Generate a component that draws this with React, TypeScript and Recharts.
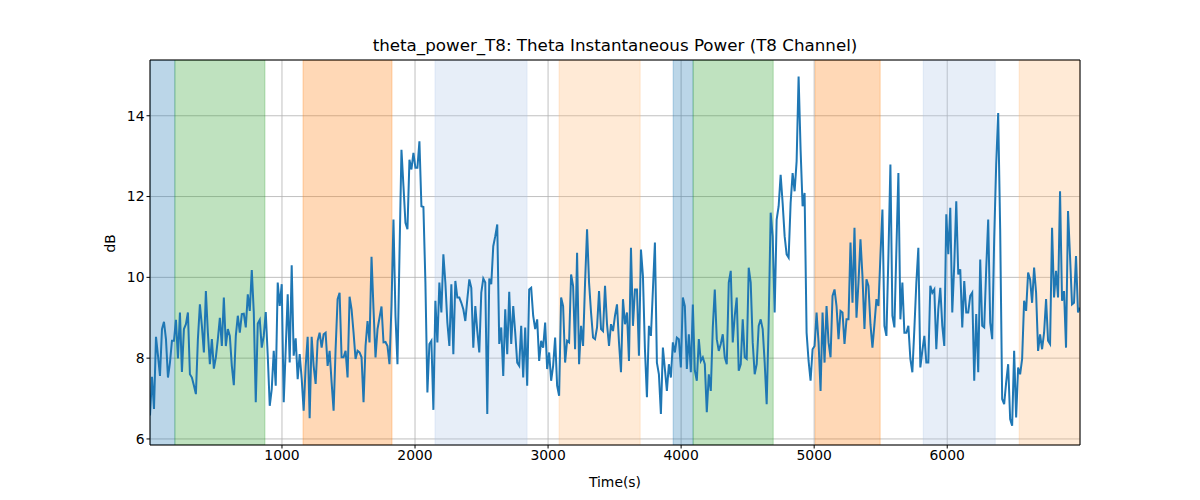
import {
  LineChart,
  Line,
  XAxis,
  YAxis,
  CartesianGrid,
  ReferenceArea,
} from "recharts";

const START_TIME = 8;
const STEP = 15;

const POWER_DB = [
  // 0 - ~1330 s
  6.58, 7.54, 6.74, 8.53, 8.06, 7.56, 8.72, 8.9, 8.47, 7.52,
  7.89, 8.43, 8.43, 8.95, 7.99, 9.13, 7.66, 8.72, 8.84, 9.13,
  7.6, 7.52, 7.32, 7.11, 8.47, 9.33, 8.8, 8.14, 9.66, 8.63,
  7.85, 8.47, 7.74, 8.02, 8.47, 9.0, 8.3, 9.5, 8.3, 8.72,
  8.55, 7.81, 7.33, 8.55, 9.05, 8.63, 9.09, 9.1, 8.76, 9.58,
  9.17, 10.18, 9.14, 6.91, 8.86, 8.95, 8.26, 8.55, 9.14, 8.06,
  6.82, 7.23, 8.18, 7.32, 9.87, 9.29, 9.83, 6.91, 8.22, 9.58,
  7.89, 10.3, 8.06, 8.49, 7.48, 8.1, 7.5, 6.7, 7.8, 8.53,
  6.51, 8.53, 7.81, 7.36, 8.43, 8.63, 8.26, 8.59, 8.63,
  // ~1340 - ~2750 s
  7.81, 8.18, 7.4, 6.7, 8.22, 9.46, 9.62, 8.02, 8.02, 8.18,
  7.52, 9.52, 9.21, 8.63, 7.98, 8.18, 8.14, 8.02, 6.91, 8.3,
  8.92, 8.39, 10.51, 9.21, 8.02, 8.72, 9.0, 9.28, 8.39, 8.4,
  8.3, 7.85, 9.29, 11.43, 9.05, 7.85, 10.53, 13.16, 12.26, 11.35,
  11.19, 12.91, 12.67, 13.08, 12.71, 12.71, 13.37, 11.76, 11.74, 9.87,
  7.15, 8.35, 8.43, 6.72, 9.42, 8.39, 9.87, 9.13, 10.57, 9.87,
  8.88, 8.3, 9.83, 8.1, 9.91, 9.5, 9.5, 9.37, 9.21, 8.92,
  9.46, 9.95, 9.74, 8.26, 9.29, 8.67, 8.14, 9.62, 9.97, 9.87,
  6.62, 9.97, 9.83, 10.77, 11.02, 11.31, 8.35, 8.76, 7.56, 9.21,
  8.1, 9.64, 8.35, 9.29, 8.63,
  // ~2770 - ~4250 s
  7.89, 7.81, 8.8, 7.52, 8.76, 7.32, 9.7, 9.74, 9.05, 8.72,
  8.96, 7.93, 8.43, 8.26, 8.88, 7.73, 8.14, 7.44, 7.81, 8.51,
  7.32, 7.07, 9.5, 9.29, 7.89, 8.43, 8.39, 10.07, 9.79, 8.22,
  10.61, 7.85, 8.8, 8.3, 9.87, 11.19, 9.87, 9.13, 8.51, 8.47,
  8.76, 9.66, 8.72, 8.67, 9.79, 8.84, 8.3, 8.84, 8.67, 9.05,
  9.33, 8.39, 7.65, 9.46, 8.84, 9.13, 7.93, 10.73, 8.8, 9.7,
  9.7, 8.06, 10.69, 10.03, 8.22, 7.03, 8.8, 8.55, 9.7, 10.86,
  7.89, 7.6, 6.62, 8.26, 7.73, 7.19, 7.85, 7.52, 8.39, 8.14,
  8.51, 8.47, 7.77, 9.5, 9.29, 7.73, 8.59, 7.65, 9.33, 7.69,
  7.44, 8.47, 7.93, 8.02, 7.85, 6.66, 7.6, 7.19, 8.76, 9.7,
  // ~4270 - ~5720 s
  8.47, 8.18, 8.35, 8.59, 8.02, 7.85, 9.87, 10.16, 8.39, 9.05,
  9.5, 7.69, 7.85, 8.96, 8.02, 7.98, 10.24, 9.87, 8.39, 7.6,
  7.85, 8.8, 8.96, 8.72, 7.89, 6.86, 8.88, 11.6, 11.02, 9.13,
  11.43, 11.76, 12.54, 11.84, 11.02, 10.57, 10.49, 11.84, 12.58, 12.13,
  12.87, 14.97, 13.16, 11.76, 12.09, 8.63, 7.93, 7.44, 8.22, 8.3,
  9.13, 8.39, 7.19, 9.13, 7.89, 9.29, 8.39, 8.02, 9.54, 9.7,
  9.29, 8.47, 9.17, 9.13, 8.35, 8.96, 8.96, 10.86, 9.37, 11.23,
  9.0, 9.87, 10.94, 10.03, 8.72, 9.95, 9.79, 8.84, 8.26, 8.84,
  9.46, 9.29, 10.53, 11.68, 8.8, 8.55, 10.53, 12.79, 9.05, 8.76,
  10.69, 12.58, 8.96, 9.87, 8.63, 8.63, 8.8, 7.98,
  // ~5740 - 7000 s
  7.65, 8.72, 9.87, 10.73, 7.77, 8.18, 8.55, 7.89, 7.89, 9.79,
  9.62, 9.7, 8.22, 9.21, 9.74, 8.8, 8.3, 11.56, 10.57, 11.72,
  9.13, 10.32, 11.88, 10.07, 10.2, 8.76, 9.91, 9.13, 9.13, 9.54,
  9.62, 7.44, 9.09, 7.65, 10.44, 8.8, 8.76, 10.2, 11.43, 8.88,
  8.47, 10.94, 12.79, 14.07, 11.19, 6.99, 6.86, 7.4, 7.85, 6.49,
  6.33, 8.18, 6.53, 7.77, 7.6, 7.98, 9.42, 9.17, 10.12, 9.95,
  9.37, 10.24, 9.62, 8.18, 8.59, 8.22, 8.63, 9.46, 8.43, 8.35,
  11.23, 9.5, 10.16, 9.5, 12.13, 9.42, 9.66, 8.26, 11.64, 10.53,
  9.33, 9.37, 10.53, 9.13, 9.25,
];

// shaded segments: start, end (s) and colour
const SPAN_START = [8, 195, 1158, 2150, 3083, 3940, 4090, 5008, 5820, 6541];
const SPAN_END = [195, 872, 1827, 2842, 3692, 4090, 4692, 5496, 6361, 6998];
const SPAN_COLOR = [
  "#1f77b4",
  "#2ca02c",
  "#ff7f0e",
  "#aec7e8",
  "#ffbb78",
  "#1f77b4",
  "#2ca02c",
  "#ff7f0e",
  "#aec7e8",
  "#ffbb78",
];

const X_TICKS = [1000, 2000, 3000, 4000, 5000, 6000];
const Y_TICKS = [6, 8, 10, 12, 14];

const X_DOMAIN = [8, 6998];
const Y_DOMAIN = [5.85, 15.38];

const data = POWER_DB.map((v, i) => ({ t: START_TIME + i * STEP, db: v }));

const FONT = "'DejaVu Sans', sans-serif";

export default function App() {
  return (
    <div
      style={{
        position: "absolute",
        left: 0,
        top: 0,
        width: 1200,
        height: 500,
        background: "#fff",
        fontFamily: FONT,
      }}
    >
      <div
        style={{
          position: "absolute",
          left: 150,
          width: 930,
          top: 35,
          textAlign: "center",
          fontSize: 16.7,
          color: "#000",
        }}
      >
        theta_power_T8: Theta Instantaneous Power (T8 Channel)
      </div>
      <LineChart
        width={1200}
        height={500}
        data={data}
        margin={{ top: 59, right: 119, bottom: 25, left: 100 }}
      >
        <CartesianGrid stroke="#b0b0b0" strokeWidth={0.8} />
        {SPAN_START.map((s, i) => (
          <ReferenceArea
            key={i}
            x1={s}
            x2={SPAN_END[i]}
            fill={SPAN_COLOR[i]}
            fillOpacity={0.3}
            stroke={SPAN_COLOR[i]}
            strokeOpacity={0.3}
            strokeWidth={1}
            ifOverflow="hidden"
          />
        ))}
        <XAxis
          dataKey="t"
          type="number"
          domain={X_DOMAIN}
          ticks={X_TICKS}
          allowDataOverflow
          height={30}
          tickSize={3.5}
          tickLine={{ stroke: "#000" }}
          axisLine={{ stroke: "#000" }}
          tick={{ fill: "#000", fontSize: 13.9, fontFamily: FONT }}
          label={{
            value: "Time(s)",
            position: "insideBottom",
            offset: -12,
            fill: "#000",
            fontSize: 13.9,
            fontFamily: FONT,
          }}
        />
        <XAxis
          xAxisId="top"
          dataKey="t"
          orientation="top"
          type="number"
          domain={X_DOMAIN}
          allowDataOverflow
          height={1}
          tick={false}
          tickLine={false}
          axisLine={{ stroke: "#000" }}
        />
        <YAxis
          type="number"
          domain={Y_DOMAIN}
          ticks={Y_TICKS}
          allowDataOverflow
          width={50}
          tickSize={3.5}
          tickLine={{ stroke: "#000" }}
          axisLine={{ stroke: "#000" }}
          tick={{ fill: "#000", fontSize: 13.9, fontFamily: FONT }}
          label={{
            value: "dB",
            angle: -90,
            position: "insideLeft",
            offset: 10,
            fill: "#000",
            fontSize: 13.9,
            fontFamily: FONT,
          }}
        />
        <YAxis
          yAxisId="right"
          dataKey="db"
          orientation="right"
          type="number"
          domain={Y_DOMAIN}
          allowDataOverflow
          width={1}
          tick={false}
          tickLine={false}
          axisLine={{ stroke: "#000" }}
        />
        <Line
          type="linear"
          dataKey="db"
          stroke="#1f77b4"
          strokeWidth={2}
          dot={false}
          isAnimationActive={false}
        />
      </LineChart>
    </div>
  );
}
